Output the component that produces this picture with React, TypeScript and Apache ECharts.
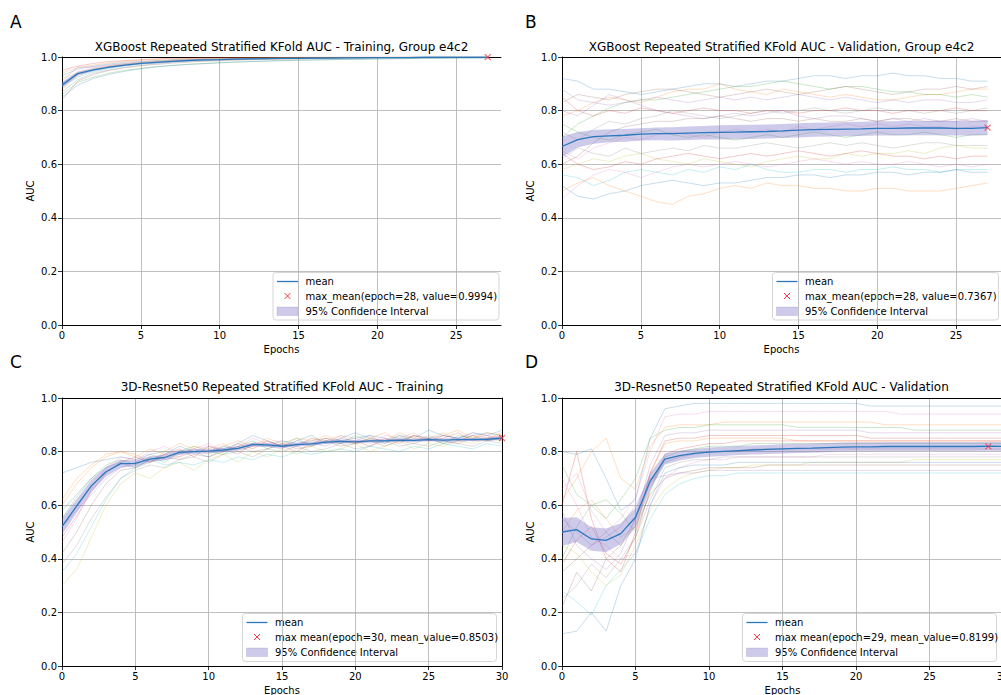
import React, { useEffect, useRef } from "react";
import * as echarts from "echarts";

// ---------- data ----------
const TAB10 = ["#1f77b4", "#ff7f0e", "#2ca02c", "#d62728", "#9467bd", "#8c564b", "#e377c2", "#7f7f7f", "#bcbd22", "#17becf"];

const EPOCHS_XGB = [0, 1, 2, 3, 4, 5, 6, 7, 8, 9, 10, 11, 12, 13, 14, 15, 16, 17, 18, 19, 20, 21, 22, 23, 24, 25, 26, 27];
const EPOCHS_RES = [0, 1, 2, 3, 4, 5, 6, 7, 8, 9, 10, 11, 12, 13, 14, 15, 16, 17, 18, 19, 20, 21, 22, 23, 24, 25, 26, 27, 28, 29, 30];
const X_TICKS_XGB = [0, 5, 10, 15, 20, 25];
const X_TICKS_RES = [0, 5, 10, 15, 20, 25, 30];
const Y_TICKS = [0, 0.2, 0.4, 0.6, 0.8, 1.0];

// Panel A: XGBoost training
const A_MEAN = [0.895, 0.938, 0.952, 0.962, 0.970, 0.976, 0.980, 0.984, 0.987, 0.989, 0.990, 0.992, 0.993, 0.994, 0.995, 0.995, 0.996, 0.996, 0.997, 0.997, 0.998, 0.998, 0.998, 0.999, 0.999, 0.999, 0.999, 0.9994];
const A_LO = [0.883, 0.931, 0.947, 0.958, 0.966, 0.973, 0.977, 0.981, 0.985, 0.987, 0.988, 0.990, 0.991, 0.993, 0.994, 0.994, 0.995, 0.995, 0.996, 0.996, 0.997, 0.997, 0.997, 0.998, 0.998, 0.998, 0.998, 0.9988];
const A_HI = [0.907, 0.945, 0.957, 0.966, 0.974, 0.979, 0.983, 0.987, 0.989, 0.991, 0.992, 0.994, 0.995, 0.995, 0.996, 0.996, 0.997, 0.997, 0.998, 0.998, 0.999, 0.999, 0.999, 1.0, 1.0, 1.0, 1.0, 1.0];
const A_FOLDS = [
  [0.93, 0.955, 0.966, 0.974, 0.980, 0.984, 0.987, 0.990, 0.992, 0.993, 0.994, 0.995, 0.996, 0.997, 0.997, 0.998, 0.998, 0.998, 0.999, 0.999, 0.999, 0.999, 1.0, 1.0, 1.0, 1.0, 1.0, 1.0],
  [0.88, 0.930, 0.953, 0.964, 0.972, 0.978, 0.982, 0.985, 0.988, 0.990, 0.991, 0.993, 0.994, 0.995, 0.996, 0.996, 0.997, 0.997, 0.998, 0.998, 0.998, 0.999, 0.999, 0.999, 0.999, 0.999, 1.0, 1.0],
  [0.86, 0.905, 0.925, 0.940, 0.950, 0.958, 0.964, 0.969, 0.973, 0.976, 0.979, 0.981, 0.983, 0.985, 0.987, 0.988, 0.989, 0.990, 0.991, 0.992, 0.993, 0.994, 0.994, 0.995, 0.995, 0.996, 0.996, 0.997],
  [0.95, 0.966, 0.976, 0.983, 0.987, 0.990, 0.993, 0.995, 0.996, 0.997, 0.998, 0.998, 0.999, 0.999, 0.999, 1.0, 1.0, 1.0, 1.0, 1.0, 1.0, 1.0, 1.0, 1.0, 1.0, 1.0, 1.0, 1.0],
  [0.91, 0.962, 0.963, 0.970, 0.976, 0.981, 0.985, 0.988, 0.990, 0.992, 0.993, 0.994, 0.995, 0.996, 0.997, 0.997, 0.998, 0.998, 0.998, 0.999, 0.999, 0.999, 0.999, 1.0, 1.0, 1.0, 1.0, 1.0],
  [0.84, 0.910, 0.935, 0.950, 0.960, 0.967, 0.972, 0.977, 0.981, 0.984, 0.986, 0.988, 0.990, 0.991, 0.992, 0.993, 0.994, 0.995, 0.996, 0.996, 0.997, 0.997, 0.998, 0.998, 0.998, 0.999, 0.999, 0.999],
  [0.90, 0.945, 0.960, 0.968, 0.975, 0.980, 0.984, 0.987, 0.989, 0.991, 0.992, 0.993, 0.994, 0.995, 0.996, 0.997, 0.997, 0.998, 0.998, 0.998, 0.999, 0.999, 0.999, 0.999, 1.0, 1.0, 1.0, 1.0],
  [0.87, 0.915, 0.940, 0.952, 0.962, 0.969, 0.975, 0.980, 0.983, 0.986, 0.988, 0.990, 0.991, 0.992, 0.993, 0.994, 0.995, 0.996, 0.996, 0.997, 0.997, 0.998, 0.998, 0.998, 0.999, 0.999, 0.999, 0.999],
  [0.92, 0.940, 0.957, 0.967, 0.974, 0.980, 0.985, 0.988, 0.991, 0.993, 0.994, 0.995, 0.996, 0.997, 0.998, 0.998, 0.998, 0.999, 0.999, 0.999, 0.999, 1.0, 1.0, 1.0, 1.0, 1.0, 1.0, 1.0],
  [0.89, 0.925, 0.945, 0.957, 0.967, 0.973, 0.978, 0.982, 0.986, 0.988, 0.990, 0.991, 0.993, 0.994, 0.995, 0.995, 0.996, 0.997, 0.997, 0.998, 0.998, 0.998, 0.999, 0.999, 0.999, 0.999, 0.999, 1.0],
  [0.85, 0.895, 0.920, 0.935, 0.947, 0.956, 0.963, 0.968, 0.972, 0.975, 0.978, 0.981, 0.983, 0.985, 0.986, 0.988, 0.989, 0.990, 0.991, 0.992, 0.993, 0.993, 0.994, 0.995, 0.995, 0.996, 0.996, 0.996],
  [0.94, 0.960, 0.970, 0.978, 0.984, 0.988, 0.991, 0.993, 0.995, 0.996, 0.997, 0.998, 0.998, 0.999, 0.999, 0.999, 1.0, 1.0, 1.0, 1.0, 1.0, 1.0, 1.0, 1.0, 1.0, 1.0, 1.0, 1.0],
];
const A_BEST = [27, 0.9994];

// Panel B: XGBoost validation
const B_MEAN = [0.666, 0.692, 0.703, 0.706, 0.708, 0.712, 0.714, 0.714, 0.716, 0.718, 0.719, 0.720, 0.721, 0.722, 0.724, 0.727, 0.729, 0.730, 0.731, 0.732, 0.734, 0.734, 0.735, 0.735, 0.735, 0.734, 0.734, 0.7367];
const B_LO = [0.627, 0.662, 0.676, 0.682, 0.684, 0.688, 0.689, 0.688, 0.690, 0.692, 0.692, 0.693, 0.694, 0.696, 0.698, 0.700, 0.702, 0.703, 0.704, 0.705, 0.707, 0.707, 0.708, 0.708, 0.708, 0.707, 0.707, 0.709];
const B_HI = [0.703, 0.720, 0.728, 0.730, 0.731, 0.734, 0.737, 0.738, 0.741, 0.743, 0.745, 0.746, 0.747, 0.748, 0.750, 0.753, 0.755, 0.756, 0.757, 0.758, 0.760, 0.760, 0.761, 0.761, 0.762, 0.761, 0.762, 0.764];
const B_FOLDS = [
  [0.92, 0.91, 0.88, 0.88, 0.87, 0.86, 0.87, 0.88, 0.89, 0.90, 0.90, 0.89, 0.90, 0.91, 0.91, 0.92, 0.93, 0.93, 0.92, 0.93, 0.93, 0.94, 0.93, 0.93, 0.92, 0.92, 0.91, 0.91],
  [0.78, 0.80, 0.83, 0.85, 0.84, 0.83, 0.85, 0.87, 0.88, 0.88, 0.90, 0.88, 0.87, 0.86, 0.88, 0.87, 0.86, 0.85, 0.86, 0.85, 0.84, 0.84, 0.85, 0.86, 0.86, 0.87, 0.88, 0.88],
  [0.70, 0.75, 0.78, 0.81, 0.83, 0.84, 0.84, 0.85, 0.86, 0.87, 0.88, 0.89, 0.89, 0.90, 0.91, 0.90, 0.89, 0.88, 0.89, 0.89, 0.88, 0.87, 0.87, 0.86, 0.86, 0.85, 0.86, 0.85],
  [0.85, 0.80, 0.78, 0.80, 0.79, 0.81, 0.80, 0.79, 0.80, 0.81, 0.80, 0.80, 0.79, 0.80, 0.80, 0.79, 0.80, 0.80, 0.81, 0.80, 0.80, 0.79, 0.80, 0.80, 0.80, 0.81, 0.80, 0.80],
  [0.80, 0.78, 0.82, 0.86, 0.84, 0.82, 0.80, 0.79, 0.78, 0.77, 0.78, 0.79, 0.78, 0.79, 0.80, 0.78, 0.77, 0.78, 0.78, 0.77, 0.76, 0.77, 0.76, 0.77, 0.76, 0.76, 0.77, 0.76],
  [0.60, 0.63, 0.68, 0.72, 0.74, 0.75, 0.76, 0.76, 0.77, 0.77, 0.78, 0.77, 0.76, 0.77, 0.77, 0.76, 0.77, 0.76, 0.76, 0.77, 0.76, 0.77, 0.77, 0.76, 0.76, 0.77, 0.76, 0.76],
  [0.65, 0.62, 0.66, 0.68, 0.70, 0.69, 0.71, 0.72, 0.71, 0.70, 0.72, 0.73, 0.72, 0.73, 0.72, 0.74, 0.73, 0.74, 0.75, 0.74, 0.75, 0.74, 0.75, 0.74, 0.74, 0.73, 0.74, 0.74],
  [0.62, 0.66, 0.64, 0.63, 0.66, 0.64, 0.65, 0.66, 0.65, 0.67, 0.66, 0.66, 0.67, 0.68, 0.67, 0.66, 0.67, 0.68, 0.67, 0.68, 0.67, 0.66, 0.67, 0.68, 0.68, 0.67, 0.67, 0.67],
  [0.58, 0.60, 0.62, 0.61, 0.63, 0.64, 0.62, 0.61, 0.60, 0.62, 0.61, 0.60, 0.59, 0.61, 0.62, 0.63, 0.62, 0.62, 0.64, 0.63, 0.64, 0.64, 0.65, 0.64, 0.66, 0.67, 0.66, 0.66],
  [0.56, 0.55, 0.52, 0.54, 0.57, 0.58, 0.57, 0.56, 0.58, 0.57, 0.59, 0.58, 0.60, 0.58, 0.57, 0.57, 0.58, 0.58, 0.57, 0.58, 0.58, 0.59, 0.58, 0.58, 0.57, 0.58, 0.58, 0.58],
  [0.52, 0.48, 0.47, 0.49, 0.50, 0.52, 0.53, 0.54, 0.53, 0.52, 0.53, 0.53, 0.54, 0.55, 0.55, 0.56, 0.56, 0.55, 0.56, 0.56, 0.57, 0.57, 0.56, 0.57, 0.57, 0.58, 0.57, 0.57],
  [0.50, 0.53, 0.55, 0.52, 0.50, 0.48, 0.46, 0.45, 0.48, 0.49, 0.51, 0.52, 0.51, 0.53, 0.52, 0.52, 0.51, 0.51, 0.50, 0.50, 0.51, 0.51, 0.50, 0.50, 0.50, 0.51, 0.52, 0.53],
  [0.75, 0.72, 0.70, 0.69, 0.71, 0.72, 0.73, 0.71, 0.70, 0.71, 0.70, 0.69, 0.70, 0.71, 0.70, 0.71, 0.72, 0.71, 0.70, 0.71, 0.72, 0.71, 0.71, 0.72, 0.71, 0.70, 0.71, 0.71],
  [0.64, 0.60, 0.58, 0.59, 0.61, 0.60, 0.62, 0.63, 0.64, 0.63, 0.62, 0.63, 0.64, 0.63, 0.64, 0.65, 0.64, 0.63, 0.64, 0.65, 0.64, 0.63, 0.63, 0.62, 0.63, 0.62, 0.63, 0.63],
  [0.88, 0.84, 0.83, 0.82, 0.83, 0.84, 0.85, 0.84, 0.83, 0.84, 0.85, 0.84, 0.85, 0.84, 0.85, 0.86, 0.85, 0.84, 0.85, 0.84, 0.83, 0.84, 0.83, 0.84, 0.84, 0.83, 0.83, 0.84],
  [0.83, 0.86, 0.85, 0.84, 0.86, 0.87, 0.88, 0.88, 0.87, 0.86, 0.85, 0.86, 0.87, 0.88, 0.87, 0.86, 0.87, 0.88, 0.89, 0.88, 0.87, 0.86, 0.87, 0.88, 0.88, 0.89, 0.88, 0.89],
  [0.47, 0.52, 0.56, 0.58, 0.57, 0.55, 0.57, 0.59, 0.60, 0.59, 0.60, 0.61, 0.60, 0.59, 0.60, 0.61, 0.62, 0.61, 0.60, 0.61, 0.60, 0.60, 0.61, 0.60, 0.59, 0.60, 0.59, 0.60],
  [0.72, 0.69, 0.73, 0.76, 0.75, 0.77, 0.78, 0.80, 0.79, 0.78, 0.77, 0.78, 0.79, 0.80, 0.79, 0.80, 0.81, 0.80, 0.79, 0.80, 0.81, 0.80, 0.80, 0.79, 0.80, 0.79, 0.80, 0.81],
];
const B_BEST = [27, 0.7367];

// Panel C: 3D-Resnet50 training
const C_MEAN = [0.520, 0.597, 0.672, 0.725, 0.755, 0.756, 0.772, 0.778, 0.797, 0.800, 0.802, 0.806, 0.812, 0.826, 0.825, 0.820, 0.826, 0.829, 0.835, 0.838, 0.836, 0.840, 0.840, 0.843, 0.842, 0.845, 0.843, 0.845, 0.845, 0.846, 0.8503];
const C_LO = [0.490, 0.572, 0.650, 0.707, 0.741, 0.744, 0.761, 0.768, 0.788, 0.792, 0.794, 0.798, 0.804, 0.818, 0.818, 0.813, 0.819, 0.822, 0.828, 0.831, 0.830, 0.834, 0.834, 0.837, 0.836, 0.839, 0.837, 0.839, 0.839, 0.840, 0.844];
const C_HI = [0.550, 0.622, 0.694, 0.743, 0.769, 0.768, 0.783, 0.788, 0.806, 0.808, 0.810, 0.814, 0.820, 0.834, 0.832, 0.827, 0.833, 0.836, 0.842, 0.845, 0.842, 0.846, 0.846, 0.849, 0.848, 0.851, 0.849, 0.851, 0.851, 0.852, 0.856];
const C_FOLDS = [
  [0.72, 0.74, 0.76, 0.77, 0.78, 0.77, 0.79, 0.80, 0.79, 0.81, 0.80, 0.82, 0.81, 0.83, 0.82, 0.84, 0.83, 0.84, 0.85, 0.84, 0.85, 0.86, 0.85, 0.84, 0.86, 0.85, 0.86, 0.85, 0.86, 0.87, 0.86],
  [0.60, 0.68, 0.74, 0.78, 0.80, 0.79, 0.76, 0.80, 0.83, 0.81, 0.79, 0.82, 0.84, 0.82, 0.85, 0.83, 0.82, 0.85, 0.84, 0.86, 0.83, 0.85, 0.87, 0.84, 0.86, 0.85, 0.87, 0.84, 0.86, 0.85, 0.87],
  [0.55, 0.63, 0.70, 0.75, 0.77, 0.75, 0.78, 0.76, 0.80, 0.82, 0.80, 0.79, 0.82, 0.84, 0.81, 0.83, 0.85, 0.82, 0.84, 0.83, 0.86, 0.84, 0.83, 0.86, 0.84, 0.85, 0.83, 0.86, 0.85, 0.84, 0.86],
  [0.48, 0.56, 0.65, 0.72, 0.76, 0.78, 0.76, 0.79, 0.81, 0.78, 0.82, 0.80, 0.83, 0.81, 0.84, 0.82, 0.80, 0.83, 0.85, 0.83, 0.84, 0.82, 0.85, 0.83, 0.86, 0.84, 0.85, 0.87, 0.84, 0.85, 0.86],
  [0.52, 0.58, 0.64, 0.70, 0.74, 0.76, 0.79, 0.77, 0.78, 0.80, 0.82, 0.81, 0.79, 0.83, 0.82, 0.81, 0.84, 0.83, 0.82, 0.85, 0.84, 0.86, 0.83, 0.85, 0.84, 0.86, 0.84, 0.83, 0.85, 0.86, 0.84],
  [0.42, 0.50, 0.60, 0.68, 0.73, 0.74, 0.76, 0.78, 0.77, 0.79, 0.78, 0.80, 0.82, 0.80, 0.81, 0.83, 0.81, 0.82, 0.84, 0.82, 0.83, 0.84, 0.82, 0.84, 0.83, 0.85, 0.83, 0.84, 0.86, 0.84, 0.85],
  [0.46, 0.55, 0.66, 0.74, 0.78, 0.77, 0.80, 0.82, 0.79, 0.81, 0.83, 0.80, 0.82, 0.85, 0.83, 0.84, 0.82, 0.85, 0.83, 0.86, 0.85, 0.83, 0.86, 0.85, 0.87, 0.84, 0.86, 0.85, 0.87, 0.86, 0.85],
  [0.38, 0.45, 0.55, 0.63, 0.70, 0.73, 0.75, 0.74, 0.77, 0.78, 0.76, 0.79, 0.80, 0.78, 0.81, 0.80, 0.82, 0.80, 0.81, 0.83, 0.81, 0.82, 0.84, 0.82, 0.83, 0.82, 0.84, 0.83, 0.82, 0.84, 0.83],
  [0.30, 0.36, 0.48, 0.60, 0.68, 0.72, 0.70, 0.74, 0.76, 0.73, 0.77, 0.79, 0.76, 0.80, 0.78, 0.81, 0.79, 0.82, 0.80, 0.81, 0.83, 0.80, 0.82, 0.84, 0.81, 0.83, 0.82, 0.84, 0.83, 0.85, 0.84],
  [0.35, 0.42, 0.52, 0.62, 0.70, 0.74, 0.77, 0.75, 0.76, 0.75, 0.77, 0.76, 0.78, 0.77, 0.79, 0.78, 0.80, 0.79, 0.80, 0.81, 0.80, 0.82, 0.81, 0.80, 0.82, 0.81, 0.83, 0.82, 0.81, 0.83, 0.82],
  [0.58, 0.64, 0.70, 0.74, 0.76, 0.74, 0.77, 0.79, 0.82, 0.80, 0.78, 0.81, 0.83, 0.86, 0.84, 0.82, 0.84, 0.86, 0.83, 0.85, 0.87, 0.85, 0.84, 0.86, 0.85, 0.88, 0.86, 0.85, 0.87, 0.86, 0.88],
  [0.62, 0.70, 0.75, 0.79, 0.80, 0.78, 0.81, 0.79, 0.78, 0.82, 0.81, 0.83, 0.80, 0.82, 0.84, 0.82, 0.85, 0.84, 0.86, 0.84, 0.83, 0.85, 0.84, 0.87, 0.85, 0.84, 0.86, 0.88, 0.85, 0.87, 0.86],
];
const C_BEST = [30, 0.8503];

// Panel D: 3D-Resnet50 validation
const D_MEAN = [0.500, 0.509, 0.474, 0.469, 0.494, 0.555, 0.690, 0.772, 0.785, 0.793, 0.798, 0.801, 0.804, 0.806, 0.808, 0.810, 0.812, 0.813, 0.815, 0.817, 0.818, 0.818, 0.819, 0.819, 0.819, 0.819, 0.819, 0.819, 0.819, 0.8199, 0.8195];
const D_LO = [0.448, 0.463, 0.430, 0.425, 0.455, 0.520, 0.660, 0.752, 0.767, 0.776, 0.781, 0.784, 0.787, 0.789, 0.791, 0.793, 0.795, 0.796, 0.798, 0.800, 0.801, 0.801, 0.802, 0.802, 0.802, 0.802, 0.802, 0.802, 0.802, 0.803, 0.802];
const D_HI = [0.552, 0.555, 0.518, 0.513, 0.533, 0.590, 0.720, 0.792, 0.803, 0.810, 0.815, 0.818, 0.821, 0.823, 0.825, 0.827, 0.829, 0.830, 0.832, 0.834, 0.835, 0.835, 0.836, 0.836, 0.836, 0.836, 0.836, 0.836, 0.836, 0.837, 0.837];
const D_FOLDS = [
  [0.80, 0.79, 0.81, 0.70, 0.58, 0.62, 0.85, 0.96, 0.97, 0.98, 0.98, 0.98, 0.98, 0.98, 0.98, 0.98, 0.98, 0.98, 0.98, 0.98, 0.98, 0.97, 0.97, 0.97, 0.97, 0.97, 0.97, 0.97, 0.97, 0.97, 0.97],
  [0.62, 0.70, 0.80, 0.85, 0.70, 0.66, 0.82, 0.89, 0.90, 0.90, 0.90, 0.91, 0.91, 0.91, 0.91, 0.91, 0.91, 0.91, 0.91, 0.91, 0.91, 0.91, 0.90, 0.90, 0.90, 0.90, 0.90, 0.90, 0.90, 0.90, 0.90],
  [0.40, 0.52, 0.60, 0.55, 0.62, 0.70, 0.85, 0.88, 0.89, 0.89, 0.90, 0.90, 0.90, 0.90, 0.90, 0.90, 0.89, 0.89, 0.89, 0.89, 0.89, 0.89, 0.89, 0.89, 0.88, 0.88, 0.88, 0.88, 0.88, 0.88, 0.88],
  [0.60, 0.80, 0.55, 0.40, 0.35, 0.50, 0.72, 0.84, 0.85, 0.85, 0.86, 0.86, 0.86, 0.86, 0.86, 0.86, 0.86, 0.86, 0.86, 0.86, 0.86, 0.85, 0.85, 0.85, 0.85, 0.85, 0.85, 0.85, 0.85, 0.85, 0.85],
  [0.55, 0.50, 0.45, 0.48, 0.52, 0.60, 0.70, 0.71, 0.72, 0.72, 0.73, 0.73, 0.73, 0.73, 0.73, 0.73, 0.73, 0.73, 0.73, 0.73, 0.73, 0.73, 0.73, 0.73, 0.73, 0.73, 0.73, 0.73, 0.73, 0.73, 0.73],
  [0.35, 0.40, 0.45, 0.50, 0.45, 0.55, 0.68, 0.76, 0.78, 0.79, 0.80, 0.80, 0.80, 0.81, 0.81, 0.81, 0.81, 0.81, 0.81, 0.81, 0.81, 0.81, 0.81, 0.81, 0.81, 0.81, 0.81, 0.81, 0.81, 0.81, 0.81],
  [0.70, 0.60, 0.48, 0.45, 0.40, 0.42, 0.60, 0.70, 0.74, 0.76, 0.77, 0.77, 0.78, 0.78, 0.78, 0.78, 0.78, 0.78, 0.79, 0.79, 0.79, 0.79, 0.79, 0.79, 0.79, 0.79, 0.79, 0.79, 0.79, 0.79, 0.79],
  [0.25, 0.30, 0.38, 0.33, 0.40, 0.48, 0.62, 0.74, 0.76, 0.77, 0.77, 0.78, 0.78, 0.78, 0.78, 0.78, 0.78, 0.78, 0.78, 0.78, 0.78, 0.78, 0.78, 0.78, 0.78, 0.78, 0.78, 0.78, 0.78, 0.78, 0.78],
  [0.45, 0.42, 0.35, 0.30, 0.34, 0.45, 0.58, 0.66, 0.70, 0.72, 0.73, 0.74, 0.74, 0.75, 0.75, 0.75, 0.75, 0.76, 0.76, 0.76, 0.76, 0.76, 0.76, 0.76, 0.77, 0.77, 0.77, 0.77, 0.77, 0.77, 0.77],
  [0.28, 0.24, 0.19, 0.30, 0.36, 0.42, 0.55, 0.64, 0.68, 0.70, 0.71, 0.71, 0.72, 0.72, 0.72, 0.72, 0.72, 0.72, 0.72, 0.72, 0.72, 0.72, 0.72, 0.72, 0.72, 0.72, 0.72, 0.72, 0.72, 0.72, 0.72],
  [0.12, 0.13, 0.20, 0.13, 0.30, 0.40, 0.60, 0.72, 0.74, 0.75, 0.75, 0.75, 0.76, 0.76, 0.76, 0.76, 0.76, 0.76, 0.76, 0.76, 0.76, 0.76, 0.76, 0.76, 0.76, 0.76, 0.76, 0.76, 0.76, 0.76, 0.76],
  [0.50, 0.58, 0.62, 0.55, 0.48, 0.52, 0.72, 0.83, 0.84, 0.84, 0.85, 0.85, 0.85, 0.85, 0.85, 0.85, 0.84, 0.84, 0.84, 0.84, 0.84, 0.84, 0.84, 0.84, 0.84, 0.84, 0.84, 0.84, 0.84, 0.84, 0.84],
  [0.75, 0.64, 0.60, 0.62, 0.57, 0.50, 0.65, 0.78, 0.80, 0.81, 0.82, 0.82, 0.82, 0.83, 0.83, 0.83, 0.83, 0.83, 0.83, 0.83, 0.83, 0.83, 0.83, 0.83, 0.83, 0.83, 0.83, 0.83, 0.83, 0.83, 0.83],
  [0.38, 0.47, 0.52, 0.42, 0.38, 0.48, 0.66, 0.79, 0.81, 0.82, 0.83, 0.83, 0.84, 0.84, 0.84, 0.84, 0.84, 0.84, 0.84, 0.84, 0.84, 0.84, 0.84, 0.84, 0.84, 0.84, 0.84, 0.84, 0.84, 0.84, 0.84],
  [0.58, 0.45, 0.40, 0.36, 0.42, 0.55, 0.75, 0.86, 0.87, 0.87, 0.88, 0.88, 0.88, 0.88, 0.88, 0.88, 0.88, 0.88, 0.88, 0.88, 0.88, 0.87, 0.87, 0.87, 0.87, 0.87, 0.87, 0.87, 0.87, 0.87, 0.87],
  [0.22, 0.35, 0.28, 0.40, 0.45, 0.52, 0.64, 0.70, 0.72, 0.73, 0.74, 0.74, 0.74, 0.74, 0.75, 0.75, 0.75, 0.75, 0.75, 0.75, 0.75, 0.75, 0.75, 0.75, 0.75, 0.75, 0.75, 0.75, 0.75, 0.75, 0.75],
  [0.66, 0.72, 0.58, 0.50, 0.55, 0.63, 0.80, 0.93, 0.94, 0.94, 0.95, 0.95, 0.95, 0.95, 0.95, 0.95, 0.95, 0.95, 0.95, 0.95, 0.95, 0.95, 0.95, 0.94, 0.94, 0.94, 0.94, 0.94, 0.94, 0.94, 0.94],
];
const D_BEST = [29, 0.8199];

const TITLES = [
  "XGBoost Repeated Stratified KFold AUC - Training, Group e4c2",
  "XGBoost Repeated Stratified KFold AUC - Validation, Group e4c2",
  "3D-Resnet50 Repeated Stratified KFold AUC - Training",
  "3D-Resnet50 Repeated Stratified KFold AUC - Validation",
];
const BEST_LABELS = [
  "max_mean(epoch=28, value=0.9994)",
  "max_mean(epoch=28, value=0.7367)",
  "max mean(epoch=30, mean_value=0.8503)",
  "max mean(epoch=29, mean_value=0.8199)",
];
const PANEL_LETTERS = ["A", "B", "C", "D"];

// ---------- layout / style ----------
const FONT = "DejaVu Sans";
const BAND = "rgba(118,108,196,0.36)";
const MEAN_COLOR = "#2a78bd";
const MARK_COLOR = "#ee3b45";

const GRIDS = [
  { left: 62, top: 57, width: 439, height: 268, xmax: 27.84, rightSpine: false },
  { left: 562, top: 57, width: 439, height: 268, xmax: 27.85, rightSpine: false },
  { left: 62, top: 398, width: 440, height: 268, xmax: 30, rightSpine: true },
  { left: 562, top: 398, width: 441, height: 268, xmax: 30, rightSpine: false },
];
const LETTER_POS = [[10, 22], [525, 22], [10, 362], [525, 362]];
const TITLE_Y = [47, 47, 387, 387];
const LEGEND_BOX = [
  { x: 273, y: 272.5, w: 226, h: 47.5 },
  { x: 772.5, y: 272.5, w: 226, h: 47.5 },
  { x: 242.5, y: 613.5, w: 254, h: 48 },
  { x: 742.5, y: 613.5, w: 254, h: 48 },
];

const PANELS = [
  { epochs: EPOCHS_XGB, ticks: X_TICKS_XGB, folds: A_FOLDS, mean: A_MEAN, lo: A_LO, hi: A_HI, best: A_BEST },
  { epochs: EPOCHS_XGB, ticks: X_TICKS_XGB, folds: B_FOLDS, mean: B_MEAN, lo: B_LO, hi: B_HI, best: B_BEST },
  { epochs: EPOCHS_RES, ticks: X_TICKS_RES, folds: C_FOLDS, mean: C_MEAN, lo: C_LO, hi: C_HI, best: C_BEST },
  { epochs: EPOCHS_RES, ticks: X_TICKS_RES, folds: D_FOLDS, mean: D_MEAN, lo: D_LO, hi: D_HI, best: D_BEST },
];

function legendGraphic(i: number) {
  const b = LEGEND_BOX[i];
  const textStyle = (t: string, y: number) => ({
    type: "text",
    x: b.x + 32.5,
    y: b.y + y,
    style: { text: t, font: `10px "${FONT}"`, fill: "#000", textVerticalAlign: "middle", textAlign: "left" },
  });
  const mx = b.x + 14.5;
  const my = b.y + 23.5;
  return {
    type: "group",
    z: 100,
    children: [
      { type: "rect", shape: { x: b.x, y: b.y, width: b.w, height: b.h, r: 3 }, style: { fill: "rgba(255,255,255,0.8)", stroke: "#d6d6d6", lineWidth: 1 } },
      { type: "line", shape: { x1: b.x + 4, y1: b.y + 9, x2: b.x + 25, y2: b.y + 9 }, style: { stroke: MEAN_COLOR, lineWidth: 1.3 } },
      textStyle("mean", 8.5),
      { type: "line", shape: { x1: mx - 3, y1: my - 3, x2: mx + 3, y2: my + 3 }, style: { stroke: MARK_COLOR, lineWidth: 1 } },
      { type: "line", shape: { x1: mx - 3, y1: my + 3, x2: mx + 3, y2: my - 3 }, style: { stroke: MARK_COLOR, lineWidth: 1 } },
      textStyle(BEST_LABELS[i], 23.5),
      { type: "rect", shape: { x: b.x + 4, y: b.y + 34.5, width: 21, height: 8.5 }, style: { fill: BAND, stroke: "rgba(118,108,196,0.4)", lineWidth: 0.5 } },
      textStyle("95% Confidence Interval", 38.5),
    ],
  };
}

function buildOption() {
  const grid = GRIDS.map((g) => ({
    left: g.left,
    top: g.top,
    width: g.width,
    height: g.height,
    show: false,
    containLabel: false,
    outerBoundsMode: "none",
  }));
  const spineOnly = { axisTick: { show: false }, axisLabel: { show: false }, splitLine: { show: false } };
  const xAxis: any[] = GRIDS.map((g, i) => ({
    type: "value",
    gridIndex: i,
    position: "bottom",
    min: 0,
    max: g.xmax,
    interval: 5,
    name: "Epochs",
    nameLocation: "middle",
    nameGap: 19,
    nameTextStyle: { fontFamily: FONT, fontSize: 10, color: "#000" },
    axisLine: { show: true, onZero: false, lineStyle: { color: "#000", width: 1 } },
    axisTick: { show: true, length: 4, lineStyle: { color: "#000", width: 0.8 }, customValues: PANELS[i].ticks },
    axisLabel: {
      fontFamily: FONT,
      fontSize: 10,
      color: "#000",
      margin: 5,
      customValues: PANELS[i].ticks,
      alignMaxLabel: "center",
      alignMinLabel: "center",
      hideOverlap: false,
      formatter: (v: number) => String(Math.round(v)),
    },
    splitLine: { show: true, lineStyle: { color: "#b0b0b0", width: 0.8 } },
  }));
  GRIDS.forEach((g, i) => {
    xAxis.push({
      type: "value",
      gridIndex: i,
      position: "top",
      min: 0,
      max: g.xmax,
      axisLine: { show: true, onZero: false, lineStyle: { color: "#000", width: 1 } },
      ...spineOnly,
    });
  });
  const yAxis: any[] = GRIDS.map((g, i) => ({
    type: "value",
    gridIndex: i,
    position: "left",
    min: 0,
    max: 1,
    interval: 0.2,
    name: "AUC",
    nameLocation: "middle",
    nameGap: 27,
    nameRotate: 90,
    nameTextStyle: { fontFamily: FONT, fontSize: 10, color: "#000" },
    axisLine: { show: true, onZero: false, lineStyle: { color: "#000", width: 1 } },
    axisTick: { show: true, length: 4, lineStyle: { color: "#000", width: 0.8 } },
    axisLabel: { fontFamily: FONT, fontSize: 10, color: "#000", margin: 5, formatter: (v: number) => v.toFixed(1), customValues: Y_TICKS },
    splitLine: { show: true, lineStyle: { color: "#b0b0b0", width: 0.8 } },
  }));
  GRIDS.forEach((g, i) => {
    if (g.rightSpine) {
      yAxis.push({
        type: "value",
        gridIndex: i,
        position: "right",
        min: 0,
        max: 1,
        axisLine: { show: true, onZero: false, lineStyle: { color: "#000", width: 1 } },
        ...spineOnly,
      });
    }
  });

  const series: any[] = [];
  PANELS.forEach((p, i) => {
    p.folds.forEach((f, j) => {
      series.push({
        type: "line",
        xAxisIndex: i,
        yAxisIndex: i,
        data: f.map((v, k) => [p.epochs[k], v]),
        symbol: "none",
        silent: true,
        lineStyle: { width: 0.75, color: TAB10[j % 10], opacity: 0.33 },
        z: 1,
      });
    });
    series.push({
      type: "custom",
      xAxisIndex: i,
      yAxisIndex: i,
      silent: true,
      data: [[p.epochs[0], p.mean[0]]],
      renderItem: (_params: any, api: any) => {
        const pts: number[][] = [];
        for (let k = 0; k < p.epochs.length; k++) pts.push(api.coord([p.epochs[k], p.hi[k]]));
        for (let k = p.epochs.length - 1; k >= 0; k--) pts.push(api.coord([p.epochs[k], p.lo[k]]));
        return { type: "polygon", shape: { points: pts }, style: { fill: BAND } };
      },
      z: 2,
    });
    series.push({
      type: "line",
      name: "mean",
      xAxisIndex: i,
      yAxisIndex: i,
      data: p.mean.map((v, k) => [p.epochs[k], v]),
      symbol: "none",
      silent: true,
      lineStyle: { width: 1.3, color: MEAN_COLOR },
      z: 3,
    });
    series.push({
      type: "scatter",
      xAxisIndex: i,
      yAxisIndex: i,
      data: [p.best],
      symbol: "path://M0,0L10,10M10,0L0,10",
      symbolSize: 6,
      clip: false,
      silent: true,
      itemStyle: { color: MARK_COLOR, borderColor: MARK_COLOR, borderWidth: 1.1 },
      z: 4,
    });
  });

  const graphic: any[] = [];
  PANEL_LETTERS.forEach((l, i) => {
    graphic.push({
      type: "text",
      x: LETTER_POS[i][0],
      y: LETTER_POS[i][1],
      style: { text: l, font: `17px "${FONT}"`, fill: "#000", textVerticalAlign: "middle" },
    });
  });
  TITLES.forEach((t, i) => {
    const g = GRIDS[i];
    const cx = i === 3 ? g.left + 439 / 2 : g.left + g.width / 2;
    graphic.push({
      type: "text",
      x: cx,
      y: TITLE_Y[i],
      style: { text: t, font: `12px "${FONT}"`, fill: "#000", textAlign: "center", textVerticalAlign: "middle" },
    });
  });
  for (let i = 0; i < 4; i++) graphic.push(legendGraphic(i));

  return {
    animation: false,
    backgroundColor: "#fff",
    grid,
    xAxis,
    yAxis,
    series,
    graphic,
  };
}

export default function App() {
  const ref = useRef<HTMLDivElement>(null);
  useEffect(() => {
    if (!ref.current) return;
    const chart = echarts.init(ref.current, undefined, { renderer: "svg" });
    chart.setOption(buildOption() as any);
    return () => chart.dispose();
  }, []);
  return <div ref={ref} style={{ position: "fixed", left: 0, top: 0, width: 1001, height: 695, background: "#fff" }} />;
}
